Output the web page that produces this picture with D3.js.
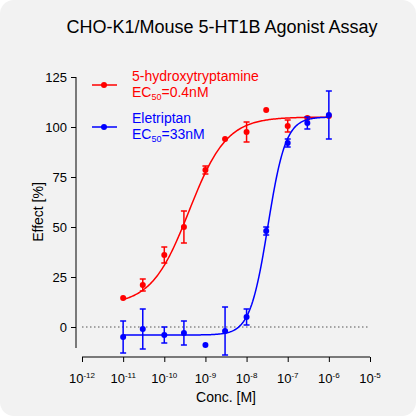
<!DOCTYPE html>
<html><head><meta charset="utf-8">
<script src="https://cdn.jsdelivr.net/npm/d3@7"></script>
<style>body{margin:0;background:#fff}svg{font-family:Arial,"Liberation Sans",sans-serif}</style>
</head><body><svg width="416" height="416"></svg>
<script>
var conc = [1e-11, 3e-11, 1e-10, 3e-10, 1e-9, 3e-9, 1e-8, 3e-8, 1e-7, 3e-7, 1e-6];
var htValues = [14.5, 21, 36, 50, 78.5, 94, 97.5, 108.5, 100.5, 104.5, 105.5];
var htErrors = [0, 3, 4, 8, 2, 0, 5, 0, 3, 0, 0];
var eleValues = [-5, -1, -4, -3, -9, -2, 5, 48, 92, 102, 106];
var eleErrors = [8, 10, 4, 6, 0, 12, 4, 2, 2, 3, 12];
var htFit = {bottom: 11, top: 105, ec50: 4e-10, hill: 0.95};
var eleFit = {bottom: -4, top: 105, ec50: 3.3e-8, hill: 2};
var yTicks = [0, 25, 50, 75, 100, 125];

var svg = d3.select('svg');
svg.append('rect').attr('width', 416).attr('height', 416).attr('rx', 14).attr('fill', '#f2f2f2');
svg.append('text').attr('x', 222).attr('y', 33).attr('text-anchor', 'middle').attr('font-size', 18).text('CHO-K1/Mouse 5-HT1B Agonist Assay');

var x = d3.scaleLog().domain([1e-12, 1e-5]).range([82, 370]);
var y = d3.scaleLinear().domain([0, 125]).range([327, 77]);

var yAxis = svg.append('g').attr('transform', 'translate(76,0)')
  .call(d3.axisLeft(y).tickValues(yTicks).tickSize(5).tickPadding(4));
yAxis.select('.domain').attr('d', 'M0,77V348');
yAxis.selectAll('text').attr('font-size', 13);

var xAxis = svg.append('g').attr('transform', 'translate(0,357)')
  .call(d3.axisBottom(x).ticks(7).tickSize(5).tickFormat(''));
xAxis.select('.domain').attr('d', 'M82,0H370');
xAxis.selectAll('.tick').filter(d => Math.abs(Math.log10(d) % 1) > 1e-6).select('line').attr('y2', 3);
d3.range(-12, -4).forEach(function(p) {
  var t = svg.append('text').attr('x', x(Math.pow(10, p))).attr('y', 383).attr('text-anchor', 'middle').attr('font-size', 13);
  t.append('tspan').text('10');
  t.append('tspan').attr('font-size', 8).attr('dy', -5).text(p);
});
svg.append('text').attr('x', 226).attr('y', 402).attr('text-anchor', 'middle').attr('font-size', 14).text('Conc. [M]');
svg.append('text').attr('transform', 'translate(43,212) rotate(-90)').attr('text-anchor', 'middle').attr('font-size', 14).text('Effect [%]');

svg.append('line').attr('x1', 82).attr('x2', 370).attr('y1', y(0)).attr('y2', y(0))
  .attr('stroke', '#555').attr('stroke-dasharray', '1.5,2.5');

function hill(p) { return c => p.bottom + (p.top - p.bottom) / (1 + Math.pow(p.ec50 / c, p.hill)); }
function series(vals, errs, fit, color) {
  var xs = d3.range(0, 201).map(i => Math.pow(10, -11 + 5 * i / 200));
  var f = hill(fit);
  svg.append('path').attr('d', d3.line().x(c => x(c)).y(c => y(f(c)))(xs))
    .attr('fill', 'none').attr('stroke', color).attr('stroke-width', 1.5);
  var g = svg.append('g').attr('stroke', color).attr('stroke-width', 1.5);
  conc.forEach(function(c, i) {
    if (!errs[i]) return;
    var cx = x(c), y1 = y(vals[i] + errs[i]), y2 = y(vals[i] - errs[i]);
    g.append('line').attr('x1', cx).attr('x2', cx).attr('y1', y1).attr('y2', y2);
    g.append('line').attr('x1', cx - 3).attr('x2', cx + 3).attr('y1', y1).attr('y2', y1);
    g.append('line').attr('x1', cx - 3).attr('x2', cx + 3).attr('y1', y2).attr('y2', y2);
  });
  svg.append('g').selectAll('circle').data(vals).join('circle')
    .attr('cx', (d, i) => x(conc[i])).attr('cy', d => y(d)).attr('r', 3).attr('fill', color);
}
series(htValues, htErrors, htFit, '#ff0000');
series(eleValues, eleErrors, eleFit, '#0000ff');

function legend(yy, color, name, ec) {
  svg.append('line').attr('x1', 92).attr('x2', 117).attr('y1', yy).attr('y2', yy).attr('stroke', color).attr('stroke-width', 1.5);
  svg.append('circle').attr('cx', 104).attr('cy', yy).attr('r', 3).attr('fill', color);
  svg.append('text').attr('x', 132).attr('y', yy - 4).attr('fill', color).attr('font-size', 14).text(name);
  var t = svg.append('text').attr('x', 132).attr('y', yy + 12).attr('fill', color).attr('font-size', 14);
  t.append('tspan').text('EC');
  t.append('tspan').attr('font-size', 9).attr('dy', 3).text('50');
  t.append('tspan').attr('dy', -3).text('=' + ec);
}
legend(85, '#ff0000', '5-hydroxytryptamine', '0.4nM');
legend(127, '#0000ff', 'Eletriptan', '33nM');
</script></body></html>
